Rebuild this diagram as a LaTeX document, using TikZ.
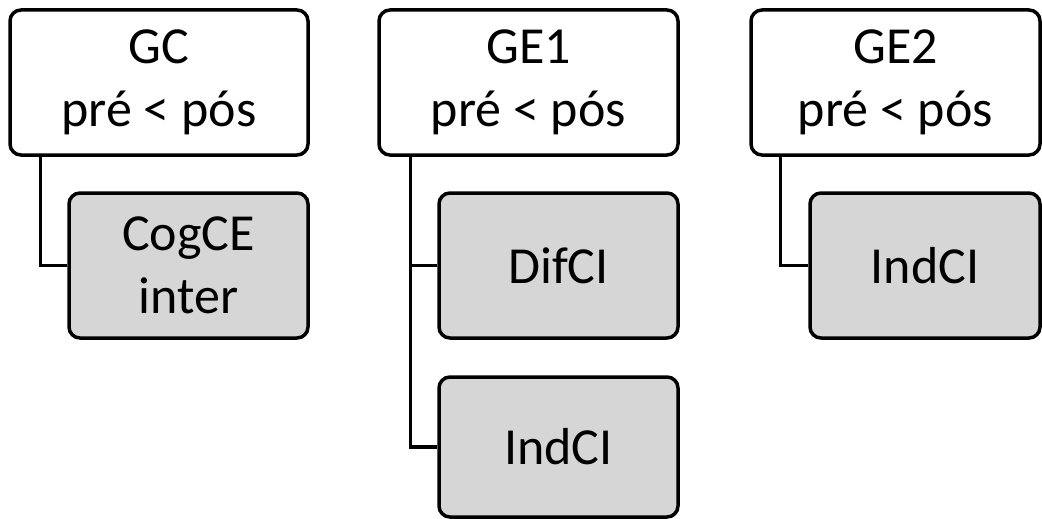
\documentclass[tikz,border=0pt]{standalone}
\usepackage{fontspec}
\setmainfont{Carlito}
\begin{document}
\begin{tikzpicture}[x=1pt,y=-1pt,
  box/.style={draw=black,line width=3.5pt,rounded corners=11pt,align=center,inner sep=0pt,
    font=\fontsize{52}{63}\selectfont},
  topbox/.style={box,fill=white,minimum height=145pt},
  subbox/.style={box,fill=black!16},
  conn/.style={draw=black,line width=3.3pt}]
\useasboundingbox (0,0) rectangle (1042,519);
\node[topbox,minimum width=298pt] (gc) at (159,82.5) {GC\\pré < pós};
\node[topbox,minimum width=299pt] (ge1) at (528.5,82.5) {GE1\\pré < pós};
\node[topbox,minimum width=289pt] (ge2) at (895.5,82.5) {GE2\\pré < pós};
\node[subbox,minimum width=239pt,minimum height=145pt] (cog) at (188.5,265.5) {CogCE\\inter};
\node[subbox,minimum width=239pt,minimum height=145pt] (dif) at (558.5,265.5) {DifCI};
\node[subbox,minimum width=239pt,minimum height=140pt] (ind1) at (558.5,447) {IndCI};
\node[subbox,minimum width=230pt,minimum height=145pt] (ind2) at (925,265.5) {IndCI};
\draw[conn] ([xshift=32pt]gc.south west) |- (cog.west);
\draw[conn] ([xshift=33pt]ge1.south west) |- (ind1.west);
\draw[conn] ([xshift=33pt]ge1.south west |- dif.west) -- (dif.west);
\draw[conn] ([xshift=31pt]ge2.south west) |- (ind2.west);
\end{tikzpicture}
\end{document}
